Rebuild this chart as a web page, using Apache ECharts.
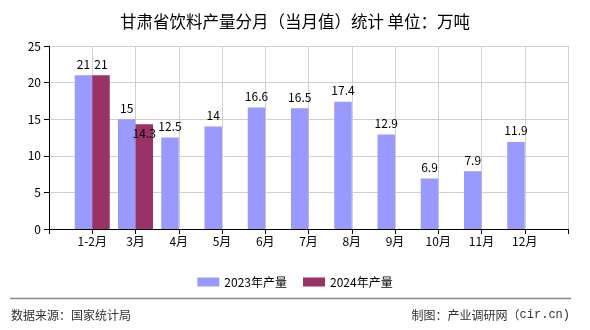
<!DOCTYPE html>
<html>
<head>
<meta charset="utf-8">
<script src="https://cdn.jsdelivr.net/npm/echarts@6/dist/echarts.min.js"></script>
<style>
  html, body { margin: 0; padding: 0; background: #fff; }
  #chart { width: 590px; height: 330px; }
</style>
</head>
<body>
<div id="chart"></div>
<script>
// Monthly beverage output in Gansu (10k tonnes)
const months = ['1-2月', '3月', '4月', '5月', '6月', '7月', '8月', '9月', '10月', '11月', '12月'];
const output2023 = [21, 15, 12.5, 14, 16.6, 16.5, 17.4, 12.9, 6.9, 7.9, 11.9];
const output2024 = [21, 14.3];
const yTicks = [0, 5, 10, 15, 20, 25];

const FONT = '"Noto Sans CJK SC", "DejaVu Sans", sans-serif';
const MONO = '"Liberation Mono", "DejaVu Sans Mono", monospace';

// Empty slots at both ends so months sit on the inner ticks
const categories = [''].concat(months, ['']);
function pad(values) {
  const out = [null];
  for (let i = 0; i < months.length; i++) out.push(i < values.length ? values[i] : null);
  out.push(null);
  return out;
}

const data2023 = pad(output2023);
const data2024 = pad(output2024).map(function (v, i) {
  if (v === null) return null;
  // the March 2024 label sits just inside the bar top
  if (i === 2) return { value: v, label: { position: 'insideTop', distance: 3 } };
  return v;
});

const chart = echarts.init(document.getElementById('chart'), null, { renderer: 'canvas' });
chart.setOption({
  animation: false,
  backgroundColor: '#fff',
  title: {
    text: '甘肃省饮料产量分月（当月值）统计 单位：万吨',
    left: 'center',
    top: 8,
    textStyle: { fontFamily: FONT, fontSize: 16.5, fontWeight: 'normal', color: '#000' }
  },
  legend: {
    top: 271,
    left: 'center',
    itemWidth: 22,
    itemHeight: 9,
    itemGap: 16,
    icon: 'rect',
    textStyle: { fontFamily: FONT, fontSize: 12, color: '#000' },
    data: ['2023年产量', '2024年产量']
  },
  grid: { left: 49, right: 22, top: 46, bottom: 101 },
  xAxis: {
    type: 'category',
    data: categories,
    boundaryGap: false,
    axisLine: { lineStyle: { color: '#000', width: 1 } },
    axisTick: { show: true, length: 5, lineStyle: { color: '#000' }, alignWithLabel: true },
    axisLabel: { fontFamily: FONT, fontSize: 12, color: '#000', margin: 6, interval: 0 },
    splitLine: { show: true, lineStyle: { color: '#d0d0d0', width: 1 } }
  },
  yAxis: {
    type: 'value',
    min: yTicks[0],
    max: yTicks[yTicks.length - 1],
    interval: 5,
    axisLine: { show: true, lineStyle: { color: '#000', width: 1 } },
    axisTick: { show: true, length: 5, lineStyle: { color: '#000' } },
    axisLabel: { fontFamily: FONT, fontSize: 12, color: '#000', margin: 8 },
    splitLine: { show: true, lineStyle: { color: '#d0d0d0', width: 1 } }
  },
  series: [
    {
      name: '2023年产量',
      type: 'bar',
      data: data2023,
      barWidth: 17.5,
      barGap: '0%',
      itemStyle: { color: '#9999ff' },
      label: { show: true, position: 'top', distance: 5, fontFamily: FONT, fontSize: 12, color: '#000' }
    },
    {
      name: '2024年产量',
      type: 'bar',
      data: data2024,
      barWidth: 17.5,
      barGap: '0%',
      itemStyle: { color: '#993366' },
      label: { show: true, position: 'top', distance: 5, fontFamily: FONT, fontSize: 12, color: '#000' }
    }
  ],
  graphic: [
    {
      type: 'line',
      shape: { x1: 10, y1: 298.5, x2: 571, y2: 298.5 },
      style: { stroke: '#888', lineWidth: 1.5 }
    },
    {
      type: 'text',
      left: 11,
      top: 309,
      style: { text: '数据来源：国家统计局', fontFamily: FONT, fontSize: 12, fill: '#333' }
    },
    {
      type: 'text',
      right: 20,
      top: 309,
      style: {
        text: '{a|制图：产业调研网（}{b|cir.cn)}',
        rich: {
          a: { fontFamily: FONT, fontSize: 12, fill: '#333', color: '#333' },
          b: { fontFamily: MONO, fontSize: 12, fill: '#333', color: '#333' }
        }
      }
    }
  ]
});
</script>
</body>
</html>
